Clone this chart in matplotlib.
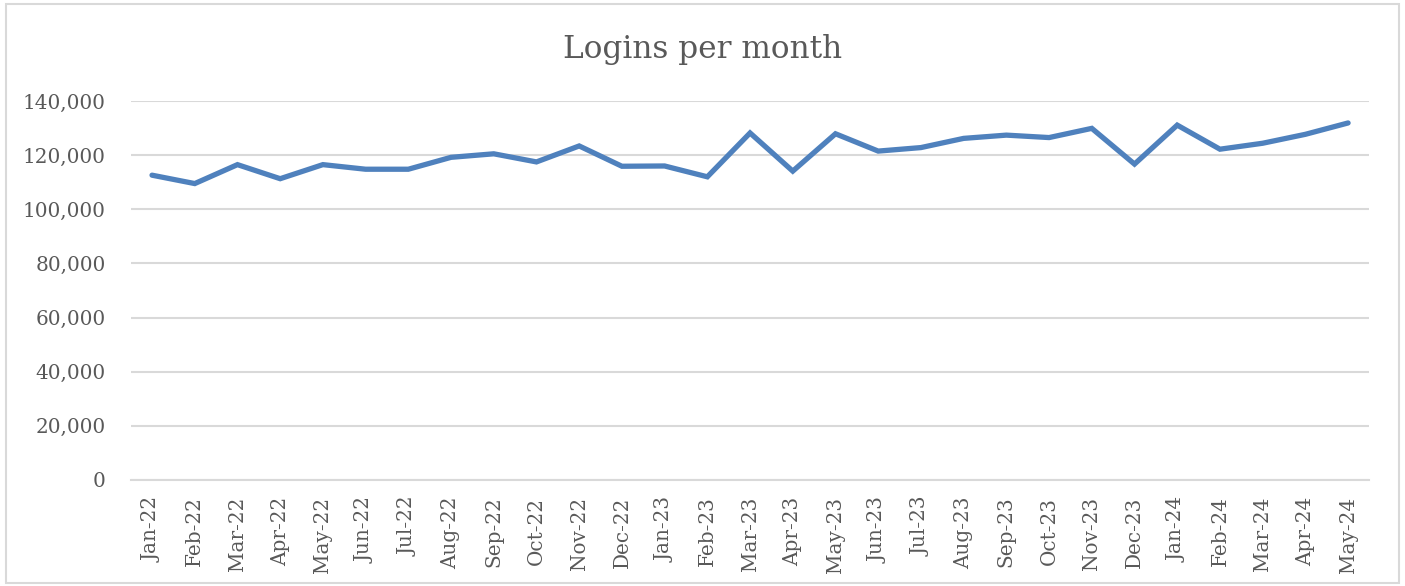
import matplotlib.pyplot as plt
from matplotlib.patches import Rectangle
from matplotlib.ticker import FuncFormatter

months = ['Jan-22', 'Feb-22', 'Mar-22', 'Apr-22', 'May-22', 'Jun-22', 'Jul-22',
          'Aug-22', 'Sep-22', 'Oct-22', 'Nov-22', 'Dec-22', 'Jan-23', 'Feb-23',
          'Mar-23', 'Apr-23', 'May-23', 'Jun-23', 'Jul-23', 'Aug-23', 'Sep-23',
          'Oct-23', 'Nov-23', 'Dec-23', 'Jan-24', 'Feb-24', 'Mar-24', 'Apr-24',
          'May-24']
logins = [112600, 109500, 116500, 111300, 116500, 114800, 114800,
          119200, 120500, 117500, 123400, 115900, 116000, 112000,
          128200, 114100, 127900, 121500, 122800, 126200, 127400,
          126500, 129900, 116700, 131100, 122200, 124400, 127700,
          131900]
y_ticks = [0, 20000, 40000, 60000, 80000, 100000, 120000, 140000]

text_col = '#595959'
grid_col = '#D9D9D9'

plt.rcParams['font.family'] = ['DejaVu Serif']

fig = plt.figure(figsize=(14.05, 5.86), dpi=100)
ax = fig.add_axes([0.093, 0.181, 0.8817, 0.6466])

x = list(range(len(months)))
ax.plot(x, logins, color='#4F81BD', linewidth=3.8, solid_capstyle='round',
        solid_joinstyle='miter', zorder=3)

ax.set_xlim(-0.5, len(months) - 0.5)
ax.set_ylim(0, 140000)
ax.set_yticks(y_ticks)
ax.yaxis.set_major_formatter(FuncFormatter(lambda v, p: f'{int(v):,}'))
ax.set_xticks(x)
ax.set_xticklabels(months, rotation=90)

ax.grid(axis='y', color=grid_col, linewidth=1.5, zorder=0)
for s in ['top', 'right', 'left']:
    ax.spines[s].set_visible(False)
ax.spines['bottom'].set_color(grid_col)
ax.spines['bottom'].set_linewidth(1.5)
ax.tick_params(axis='both', length=0, labelsize=14.4, labelcolor=text_col)
ax.tick_params(axis='y', pad=18)
ax.tick_params(axis='x', pad=12)

fig.text(0.5, 0.916, 'Logins per month', ha='center', va='center',
         fontsize=22.4, color=text_col)

fig.patches.append(Rectangle((0.0043, 0.005), 0.9915, 0.988, transform=fig.transFigure,
                             fill=False, edgecolor=grid_col, linewidth=1.5))

fig.savefig('out.png', dpi=100)
